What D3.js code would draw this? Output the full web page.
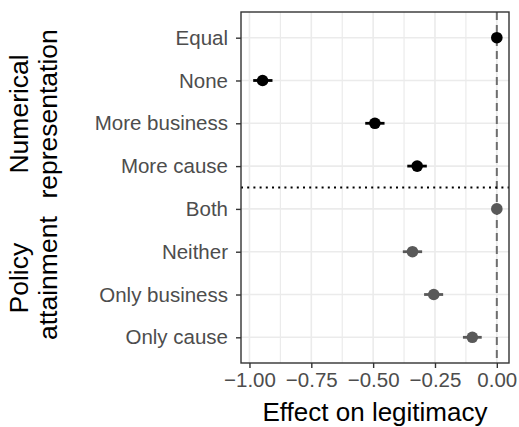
<!DOCTYPE html>
<html>
<head>
<meta charset="utf-8">
<script src="https://cdn.jsdelivr.net/npm/d3@7"></script>
<style>
  html, body { margin: 0; padding: 0; background: #fff; }
  svg { display: block; font-family: "Liberation Sans", Arial, sans-serif; }
</style>
</head>
<body>
<svg id="chart" width="519" height="427"></svg>
<script>
const categories = ["Equal", "None", "More business", "More cause", "Both", "Neither", "Only business", "Only cause"];
const groups = ["num", "num", "num", "num", "pol", "pol", "pol", "pol"];
const estimates = [0.0, -0.947, -0.493, -0.322, 0.0, -0.341, -0.255, -0.099];
const lowers = [0.0, -0.985, -0.532, -0.362, 0.0, -0.380, -0.294, -0.137];
const uppers = [0.0, -0.907, -0.454, -0.283, 0.0, -0.302, -0.217, -0.061];
const xTicks = [-1.0, -0.75, -0.5, -0.25, 0.0];
const xMinor = [-0.875, -0.625, -0.375, -0.125];
const groupLabels = [["Numerical", "representation"], ["Policy", "attainment"]];

const svg = d3.select("#chart");
const panel = { left: 241, right: 509, top: 12, bottom: 363 };

const lo = d3.min(lowers), hi = d3.max(uppers);
const pad = (hi - lo) * 0.05;
const x = d3.scaleLinear().domain([lo - pad, hi + pad]).range([panel.left, panel.right]);
const y = d3.scalePoint().domain(categories).range([panel.top, panel.bottom]).padding(0.6);

const colorOf = g => g === "num" ? "#000000" : "#595959";

// grid
const grid = svg.append("g");
grid.selectAll("line.minor").data(xMinor).join("line")
  .attr("x1", d => x(d)).attr("x2", d => x(d))
  .attr("y1", panel.top).attr("y2", panel.bottom)
  .attr("stroke", "#ebebeb").attr("stroke-width", 1.2);
grid.selectAll("line.majx").data(xTicks).join("line")
  .attr("x1", d => x(d)).attr("x2", d => x(d))
  .attr("y1", panel.top).attr("y2", panel.bottom)
  .attr("stroke", "#ebebeb").attr("stroke-width", 1.6);
grid.selectAll("line.majy").data(categories).join("line")
  .attr("x1", panel.left).attr("x2", panel.right)
  .attr("y1", d => y(d)).attr("y2", d => y(d))
  .attr("stroke", "#ebebeb").attr("stroke-width", 1.6);

// dashed zero line
svg.append("line")
  .attr("x1", x(0)).attr("x2", x(0))
  .attr("y1", panel.top).attr("y2", panel.bottom)
  .attr("stroke", "#6e6e6e").attr("stroke-width", 2)
  .attr("stroke-dasharray", "8,5");

// dotted separator between groups
const sepY = (y(categories[3]) + y(categories[4])) / 2;
svg.append("line")
  .attr("x1", panel.left).attr("x2", panel.right)
  .attr("y1", sepY).attr("y2", sepY)
  .attr("stroke", "#000").attr("stroke-width", 2)
  .attr("stroke-dasharray", "2,4.2");

// error bars and points
const data = categories.map((c, i) => ({ c, g: groups[i], est: estimates[i], lo: lowers[i], hi: uppers[i] }));
svg.append("g").selectAll("line").data(data).join("line")
  .attr("x1", d => x(d.lo)).attr("x2", d => x(d.hi))
  .attr("y1", d => y(d.c)).attr("y2", d => y(d.c))
  .attr("stroke", d => colorOf(d.g)).attr("stroke-width", 2.8);
svg.append("g").selectAll("circle").data(data).join("circle")
  .attr("cx", d => x(d.est)).attr("cy", d => y(d.c)).attr("r", 5.8)
  .attr("fill", d => colorOf(d.g));

// panel border
svg.append("rect")
  .attr("x", panel.left).attr("y", panel.top)
  .attr("width", panel.right - panel.left).attr("height", panel.bottom - panel.top)
  .attr("fill", "none").attr("stroke", "#333333").attr("stroke-width", 1.4);

// axes
const xAxis = svg.append("g").attr("transform", `translate(0,${panel.bottom})`)
  .call(d3.axisBottom(x).tickValues(xTicks).tickFormat(d3.format(".2f")).tickSizeOuter(0).tickSize(5).tickPadding(4));
xAxis.select(".domain").remove();
xAxis.selectAll(".tick line").attr("stroke", "#333333").attr("stroke-width", 1.4);
xAxis.selectAll(".tick text").attr("fill", "#4d4d4d").style("font-size", "20.5px")
  .style("font-family", "Liberation Sans, Arial, sans-serif");

const yAxis = svg.append("g").attr("transform", `translate(${panel.left},0)`)
  .call(d3.axisLeft(y).tickSizeOuter(0).tickSize(5).tickPadding(8));
yAxis.select(".domain").remove();
yAxis.selectAll(".tick line").attr("stroke", "#333333").attr("stroke-width", 1.4);
yAxis.selectAll(".tick text").attr("fill", "#4d4d4d").style("font-size", "20.5px")
  .style("font-family", "Liberation Sans, Arial, sans-serif");

// x title
svg.append("text")
  .attr("x", (panel.left + panel.right) / 2).attr("y", 421)
  .attr("text-anchor", "middle")
  .style("font-size", "26px").attr("fill", "#000")
  .text("Effect on legitimacy");

// group labels (rotated, two lines)
const groupCenters = [
  (y(categories[0]) + y(categories[3])) / 2 + 12,
  (y(categories[4]) + y(categories[7])) / 2 + 5
];
groupLabels.forEach((lines, gi) => {
  const t = svg.append("text")
    .attr("transform", `translate(28,${groupCenters[gi]}) rotate(-90)`)
    .attr("text-anchor", "middle")
    .style("font-size", "26.5px").attr("fill", "#000");
  lines.forEach((ln, li) => {
    t.append("tspan").attr("x", 0).attr("dy", li === 0 ? 0 : 29).text(ln);
  });
});
</script>
</body>
</html>
